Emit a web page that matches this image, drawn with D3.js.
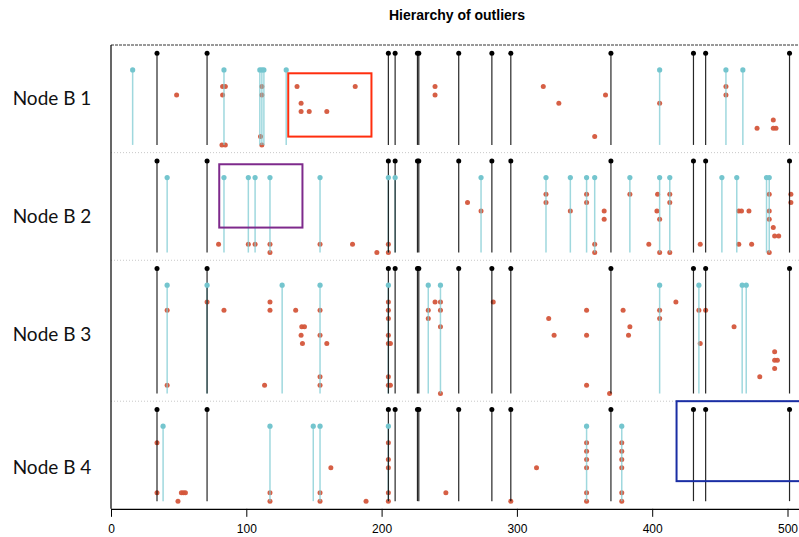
<!DOCTYPE html>
<html>
<head>
<meta charset="utf-8">
<script src="https://cdn.jsdelivr.net/npm/d3@7"></script>
<style>
  html, body { margin: 0; padding: 0; background: #fff; }
  svg { display: block; }
</style>
</head>
<body>
<div id="chart"></div>
<script>
// Panels (one per node) and how many outlier levels (rows) each has
const panelNames = ['Node B 1', 'Node B 2', 'Node B 3', 'Node B 4'];
const panelRows = [12, 12, 16, 12];

const xTicks = [0, 100, 200, 300, 400, 500];

// Top-level outliers: same positions in every panel
const blackLines = [34, 71, 205, 210, 226.5, 227.5, 257, 281.5, 295.5, 369.5, 430.5, 439.5, 501.5];

// Second-level outliers, per panel
const cyanLines = [
    [16, 83.5, 110, 111.5, 113, 129.5, 405.5, 454.5, 467],
    [41.5, 83.5, 101.5, 106.5, 117.5, 154.5, 205, 210, 273.5, 321.5, 339.5, 351.5, 357.5,
     383.5, 405.5, 413, 451.5, 462.5, 484.5, 486.5],
    [41.5, 71, 126.5, 154.5, 205, 234.5, 243.5, 405.5, 434.5, 466.5, 469.5],
    [38.5, 117.5, 149.5, 154.5, 205, 351.5, 377.5]
];

// Lower-level outliers: [position, level] per panel
const redPoints = [
    [[48.5, 5], [82.5, 4], [84.5, 4], [82.5, 5], [82, 11], [84.5, 11], [111.5, 4], [111.5, 5],
     [110.5, 10], [111.5, 11], [137.5, 4], [180.5, 4], [140.5, 6], [140.5, 7], [146.5, 7],
     [159.5, 7], [239.5, 4], [239.5, 5], [319.5, 4], [331, 6], [365.5, 5], [357.5, 10],
     [405.5, 6], [454.5, 4], [454.5, 5], [489.5, 8], [477.5, 9], [489.5, 9], [491.5, 9]],
    [[79.5, 10], [101.5, 10], [106.5, 10], [117.5, 10], [117.5, 11], [154.5, 10], [178.5, 10],
     [196.5, 11], [205, 10], [205, 11], [263.5, 5], [273.5, 6], [321.5, 4], [321.5, 5],
     [339.5, 6], [351.5, 4], [351.5, 5], [364.5, 6], [364.5, 7], [357.5, 10], [357.5, 11],
     [383.5, 4], [404, 4], [413, 4], [413, 5], [403.5, 6], [405.5, 7], [397.5, 10],
     [405.5, 11], [413, 11], [435.5, 10], [464, 6], [466, 6], [471.5, 6], [464, 10],
     [473.5, 10], [486.5, 4], [486.5, 6], [486.5, 7], [489.5, 8], [490.5, 9], [493.5, 9],
     [486.5, 11], [502.5, 4], [502.5, 5]],
    [[41.5, 5], [41.5, 14], [71, 4], [83.5, 5], [117.5, 4], [117.5, 5], [113.5, 14], [136.5, 5],
     [141, 7], [143, 7], [140.5, 8], [141.5, 9], [154.5, 5], [154.5, 8], [159.5, 9],
     [154.5, 13], [154.5, 14], [205, 4], [205, 5], [205, 6], [205, 8], [205, 9], [206.5, 9],
     [205, 13], [205, 14], [206.5, 14], [234.5, 5], [234.5, 6], [239.5, 4], [243.5, 4],
     [243.5, 5], [243.5, 7], [243.5, 15], [282.5, 4], [323.5, 6], [327.5, 8], [351.5, 5],
     [351.5, 8], [351.5, 14], [368.5, 15], [378.5, 5], [383.5, 7], [382.5, 8], [405.5, 5],
     [405.5, 6], [417.5, 4], [434.5, 5], [439.5, 5], [435.5, 9], [460.5, 7], [490.5, 10],
     [490.5, 11], [492.5, 11], [490.5, 12], [479.5, 13]],
    [[34, 4], [34, 10], [49.5, 11], [52, 10], [53.5, 10], [55, 10], [117.5, 10], [117.5, 11],
     [154.5, 10], [154.5, 11], [162.5, 7], [188.5, 11], [205, 4], [205, 6], [205, 7],
     [205, 10], [205, 11], [247.5, 10], [295.5, 11], [314.5, 7], [351.5, 4], [351.5, 5],
     [351.5, 6], [351.5, 7], [351.5, 10], [351.5, 11], [377.5, 4], [377.5, 5], [377.5, 6],
     [377.5, 7], [377.5, 10], [377.5, 11]]
];

// Highlight boxes: panel index, position range, level range
const boxPanels = [0, 1, 3];
const boxX = [[131, 192.5], [80, 141.5], [418, 530]];
const boxLevels = [[2.4, 10], [0.4, 8.0], [-1.0, 8.6]];
const boxColors = ['#ff2e0e', '#7e2a8c', '#1a2ea4'];

const BLACK_LEVEL = 0;
const CYAN_LEVEL = 2;

const width = 799;
const height = 537;
const margin = { left: 111, top: 45 };
const rowStep = 8.33;
const padTop = 8.3;
const padBottom = 7.7;

const svg = d3.select('#chart').append('svg')
    .attr('width', width)
    .attr('height', height);

const x = d3.scaleLinear().domain([0, 500]).range([margin.left, 787.5]);

// Build one y scale per panel, stacked vertically
let panelTop = margin.top;
const panelScales = panelRows.map(n => {
    const bottom = panelTop + padTop + (n - 1) * rowStep + padBottom;
    const y = d3.scaleLinear()
        .domain([-padTop / rowStep, n - 1 + padBottom / rowStep])
        .range([panelTop, bottom]);
    const p = { y, top: panelTop, bottom };
    panelTop = bottom;
    return p;
});
const plotBottom = panelTop;

// Title
svg.append('text')
    .attr('x', 457)
    .attr('y', 20)
    .attr('text-anchor', 'middle')
    .attr('font-family', 'Liberation Sans, Arial, sans-serif')
    .attr('font-weight', 'bold')
    .attr('font-size', '14px')
    .attr('fill', '#000')
    .text('Hierarchy of outliers');

// Panel separators
panelScales.slice(1).forEach(p => {
    svg.append('line')
        .attr('x1', margin.left).attr('x2', width)
        .attr('y1', p.top).attr('y2', p.top)
        .attr('stroke', '#c8c8c8')
        .attr('stroke-width', 1)
        .attr('stroke-dasharray', '1,2');
});

// Top border (dashed) and left border
svg.append('line')
    .attr('x1', margin.left).attr('x2', width)
    .attr('y1', margin.top).attr('y2', margin.top)
    .attr('stroke', '#333')
    .attr('stroke-width', 1)
    .attr('stroke-dasharray', '3,1');

svg.append('line')
    .attr('x1', margin.left).attr('x2', margin.left)
    .attr('y1', margin.top).attr('y2', plotBottom)
    .attr('stroke', '#000')
    .attr('stroke-width', 1.2);

// Panel labels
const labelOffsets = [60, 70, 81, 73];
panelNames.forEach((name, i) => {
    svg.append('text')
        .attr('x', 52)
        .attr('y', panelScales[i].top + labelOffsets[i])
        .attr('text-anchor', 'middle')
        .attr('font-family', 'Lato, Open Sans, sans-serif')
        .attr('font-size', '19px')
        .attr('fill', '#111')
        .text(name);
});

panelScales.forEach((p, i) => {
    const g = svg.append('g').attr('class', 'panel');
    const lastRow = panelRows[i] - 1;

    // Low-level outlier points
    g.selectAll('circle.red')
        .data(redPoints[i])
        .join('circle')
        .attr('class', 'red')
        .attr('cx', d => x(d[0]))
        .attr('cy', d => p.y(d[1]))
        .attr('r', 2.5)
        .attr('fill', '#d4563b')
        .attr('fill-opacity', 0.95);

    // Second-level stems
    g.selectAll('line.cyan')
        .data(cyanLines[i])
        .join('line')
        .attr('class', 'cyan')
        .attr('x1', d => x(d)).attr('x2', d => x(d))
        .attr('y1', p.y(CYAN_LEVEL)).attr('y2', p.y(lastRow))
        .attr('stroke', '#7fcbd3')
        .attr('stroke-opacity', 0.75)
        .attr('stroke-width', 1.5);

    // Top-level stems
    g.selectAll('line.black')
        .data(blackLines)
        .join('line')
        .attr('class', 'black')
        .attr('x1', d => x(d)).attr('x2', d => x(d))
        .attr('y1', p.y(BLACK_LEVEL)).attr('y2', p.y(lastRow))
        .attr('stroke', '#000')
        .attr('stroke-opacity', 0.85)
        .attr('stroke-width', 1.2);

    g.selectAll('circle.cyan')
        .data(cyanLines[i])
        .join('circle')
        .attr('class', 'cyan')
        .attr('cx', d => x(d))
        .attr('cy', p.y(CYAN_LEVEL))
        .attr('r', 2.6)
        .attr('fill', '#74c5ce');

    g.selectAll('circle.black')
        .data(blackLines)
        .join('circle')
        .attr('class', 'black')
        .attr('cx', d => x(d))
        .attr('cy', p.y(BLACK_LEVEL))
        .attr('r', 2.5)
        .attr('fill', '#000');
});

// Highlight boxes
boxPanels.forEach((pi, k) => {
    const p = panelScales[pi];
    svg.append('rect')
        .attr('x', x(boxX[k][0]))
        .attr('y', p.y(boxLevels[k][0]))
        .attr('width', x(boxX[k][1]) - x(boxX[k][0]))
        .attr('height', p.y(boxLevels[k][1]) - p.y(boxLevels[k][0]))
        .attr('fill', 'none')
        .attr('stroke', boxColors[k])
        .attr('stroke-width', 2);
});

// Bottom axis
const axis = svg.append('g')
    .attr('transform', `translate(0,${plotBottom})`)
    .call(d3.axisBottom(x).tickValues(xTicks).tickSize(8).tickPadding(8).tickSizeOuter(0));

axis.select('.domain')
    .attr('d', `M${margin.left},0.5H${width}`)
    .attr('stroke', '#000')
    .attr('stroke-width', 1.2);
axis.selectAll('.tick line').attr('stroke', '#000');
axis.selectAll('.tick text')
    .attr('font-family', 'Liberation Sans, Arial, sans-serif')
    .attr('font-size', '12px')
    .attr('fill', '#000');
</script>
</body>
</html>
